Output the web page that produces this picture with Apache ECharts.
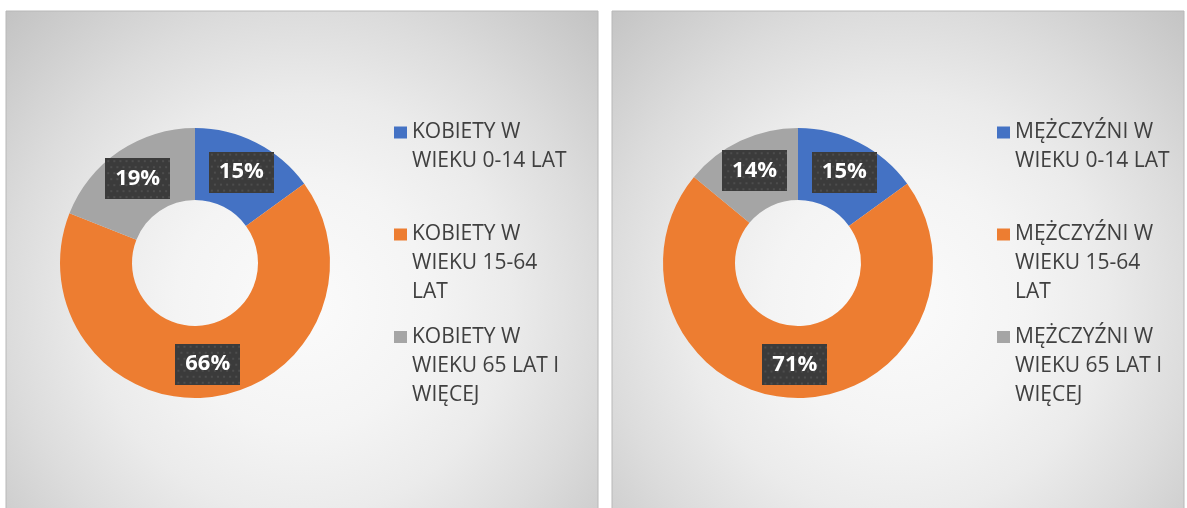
<!DOCTYPE html>
<html>
<head>
<meta charset="utf-8">
<script src="https://cdn.jsdelivr.net/npm/echarts@6/dist/echarts.min.js"></script>
<style>
html,body{margin:0;padding:0;background:#fff;}
#c{width:1187px;height:508px;}
</style>
</head>
<body>
<div id="c"></div>
<script>
// ---- data ----
const womenCategories = ['KOBIETY W WIEKU 0-14 LAT', 'KOBIETY W WIEKU 15-64 LAT', 'KOBIETY W WIEKU 65 LAT I WIĘCEJ'];
const womenLegendLabels = ['KOBIETY W\nWIEKU 0-14 LAT', 'KOBIETY W\nWIEKU 15-64\nLAT', 'KOBIETY W\nWIEKU 65 LAT I\nWIĘCEJ'];
const womenValues = [15, 66, 19];

const menCategories = ['MĘŻCZYŹNI W WIEKU 0-14 LAT', 'MĘŻCZYŹNI W WIEKU 15-64 LAT', 'MĘŻCZYŹNI W WIEKU 65 LAT I WIĘCEJ'];
const menLegendLabels = ['MĘŻCZYŹNI W\nWIEKU 0-14 LAT', 'MĘŻCZYŹNI W\nWIEKU 15-64\nLAT', 'MĘŻCZYŹNI W\nWIEKU 65 LAT I\nWIĘCEJ'];
const menValues = [15, 71, 14];

const sliceColors = ['#4472C4', '#ED7D31', '#A5A5A5'];

// ---- helpers ----
function dotCanvas(w, h) {
  const c = document.createElement('canvas');
  c.width = w; c.height = h;
  const g = c.getContext('2d');
  g.fillStyle = '#3b3b3b';
  g.fillRect(0, 0, w, h);
  g.fillStyle = '#4d4d4d';
  for (let y = 2; y < h; y += 6) {
    for (let x = (Math.floor(y / 6) % 2) * 3 + 2; x < w; x += 6) {
      g.fillRect(x, y, 2, 2);
    }
  }
  return c;
}
const labelBg = dotCanvas(64, 41);

function panelBg(x, y, w, h) {
  const cx = x + w / 2, cy = y + 294;
  return {
    type: 'rect',
    z: -10,
    silent: true,
    shape: { x: x, y: y, width: w, height: h },
    style: {
      fill: {
        type: 'radial', global: true, x: cx, y: cy, r: 420,
        colorStops: [
          { offset: 0, color: '#fbfbfb' },
          { offset: 0.3, color: '#f4f4f4' },
          { offset: 0.5, color: '#ebebeb' },
          { offset: 0.7, color: '#dcdcdc' },
          { offset: 1, color: '#c2c2c2' }
        ]
      },
      stroke: '#b8b8b8',
      lineWidth: 1
    }
  };
}

const LH = 29;
function legendsFor(categories, labels, left, centers) {
  const map = {};
  categories.forEach((c, i) => { map[c] = labels[i]; });
  return categories.map((name, i) => {
    const n = labels[i].split('\n').length;
    return {
      orient: 'vertical',
      left: left,
      top: centers[i] - (2 * n - 1) * LH / 2,
      padding: 0,
      itemWidth: 13,
      itemHeight: 12,
      icon: 'rect',
      selectedMode: false,
      // leading blank lines keep the first text line level with the icon
      formatter: (nm) => '\n'.repeat(n - 1) + map[nm],
      textStyle: { color: '#404040', fontSize: 21, lineHeight: LH, fontFamily: 'Open Sans' },
      data: [{ name: name, itemStyle: { color: sliceColors[i] } }]
    };
  });
}

function pieSeries(name, categories, values, center) {
  return {
    type: 'pie',
    name: name,
    center: center,
    radius: [63, 135],
    startAngle: 90,
    clockwise: true,
    avoidLabelOverlap: false,
    emphasis: { disabled: true },
    itemStyle: { borderWidth: 0 },
    label: {
      show: true,
      position: 'inside',
      formatter: '{c}%',
      color: '#ffffff',
      fontFamily: 'Open Sans',
      fontWeight: 'bold',
      fontSize: 22,
      lineHeight: 25,
      padding: [8, 10],
      backgroundColor: { image: labelBg },
      shadowColor: 'rgba(0,0,0,0.45)',
      shadowBlur: 4,
      shadowOffsetX: 2,
      shadowOffsetY: 2
    },
    labelLine: { show: false },
    data: categories.map((c, i) => ({ name: c, value: values[i], itemStyle: { color: sliceColors[i] } }))
  };
}

const chart = echarts.init(document.getElementById('c'), null, { renderer: 'canvas' });
const centers = [132.5, 234.5, 337];
chart.setOption({
  animation: false,
  backgroundColor: '#ffffff',
  graphic: [panelBg(6, 11, 592, 590), panelBg(612, 11, 572, 590)],
  legend: legendsFor(womenCategories, womenLegendLabels, 394, centers)
    .concat(legendsFor(menCategories, menLegendLabels, 997, centers)),
  series: [
    pieSeries('Kobiety', womenCategories, womenValues, [195, 263]),
    pieSeries('Mężczyźni', menCategories, menValues, [798, 263])
  ]
});
</script>
</body>
</html>
